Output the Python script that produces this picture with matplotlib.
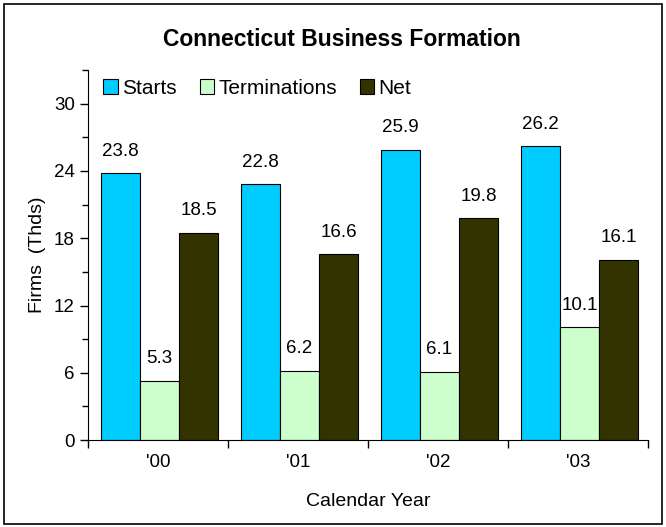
import numpy as np
import matplotlib.pyplot as plt
from matplotlib.ticker import MultipleLocator, FixedLocator

plt.rcParams['font.family'] = ['Liberation Sans', 'DejaVu Sans']

years = ["'00", "'01", "'02", "'03"]
starts = [23.8, 22.8, 25.9, 26.2]
terminations = [5.3, 6.2, 6.1, 10.1]
net = [18.5, 16.6, 19.8, 16.1]

series = [('Starts', starts, '#00CCFF'),
          ('Terminations', terminations, '#CCFFCC'),
          ('Net', net, '#333300')]

fig = plt.figure(figsize=(6.66, 5.27), dpi=100)
ax = fig.add_axes([0.1321, 0.165, 0.841, 0.702])

x = np.arange(len(years))
w = 0.28
for i, (name, vals, col) in enumerate(series):
    pos = x + (i - 1) * w + 0.01
    bars = ax.bar(pos, vals, w, color=col, edgecolor='black', linewidth=0.8, label=name)
    for b, v in zip(bars, vals):
        ax.annotate(f'{v:.1f}', (b.get_x() + b.get_width() / 2, v),
                    xytext=(0, 9.5), textcoords='offset points',
                    ha='center', va='bottom', fontsize=13.5)

ax.set_xlim(-0.5, len(years) - 0.5)
ax.set_ylim(0, 33)
ax.yaxis.set_major_locator(FixedLocator([0, 6, 12, 18, 24, 30]))
ax.yaxis.set_minor_locator(MultipleLocator(3))
ax.set_xticks(x)
ax.set_xticklabels(years)
ax.xaxis.set_minor_locator(FixedLocator(np.arange(-0.5, len(years), 1.0)))
ax.tick_params(axis='x', which='major', length=0, pad=10, labelsize=13.5)
ax.tick_params(axis='x', which='minor', length=6, width=1)
ax.tick_params(axis='y', which='major', length=6, width=1, labelsize=13.5)
ax.tick_params(axis='y', which='minor', length=4, width=1)
for s in ['top', 'right']:
    ax.spines[s].set_visible(False)

ax.set_xlabel('Calendar Year', fontsize=14, labelpad=16)
ax.set_ylabel('Firms  (Thds)', fontsize=14, labelpad=6)

ax.legend(loc='upper left', bbox_to_anchor=(0.005, 1.01), ncol=3, frameon=False,
          fontsize=15, handlelength=0.7, handleheight=0.7, handletextpad=0.2,
          columnspacing=1.1, borderaxespad=0.2)

fig.text(0.513, 0.925, 'Connecticut Business Formation', ha='center', va='center',
         fontsize=16.5, fontweight='bold')

# outer frame around the whole chart
fig.patches.append(plt.Rectangle((0.006, 0.006), 0.988, 0.986, transform=fig.transFigure,
                                 fill=False, edgecolor='black', linewidth=1.2))

fig.savefig('out.png', dpi=100)
